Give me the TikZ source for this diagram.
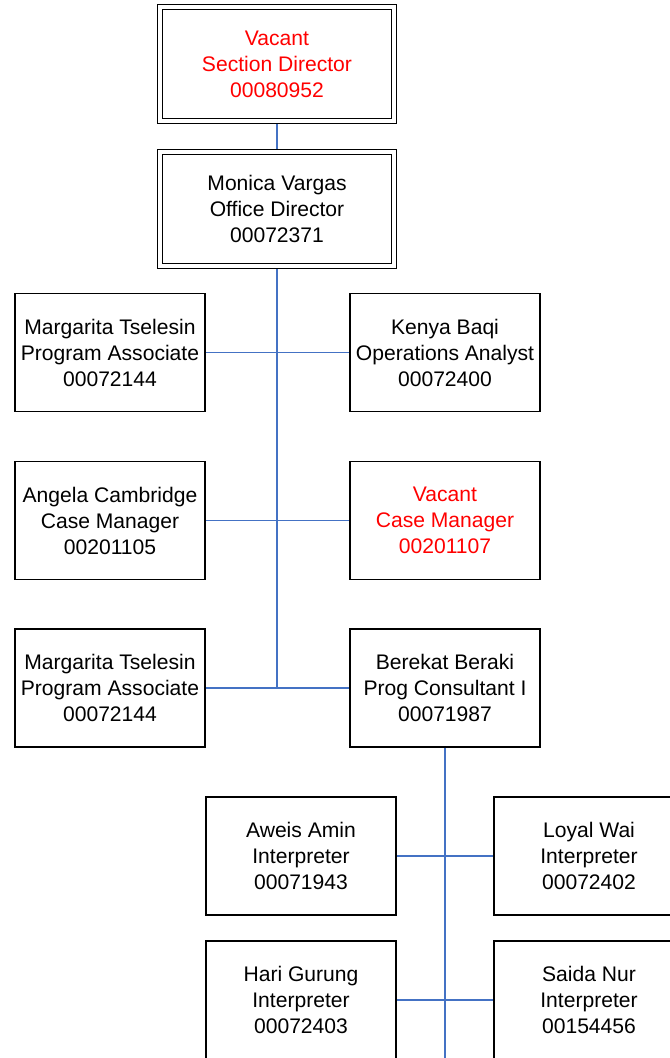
\documentclass[tikz,border=0pt]{standalone}
\usepackage{fontspec}
\setmainfont{Liberation Sans}
\usepackage{xcolor}
\usetikzlibrary{positioning}
\definecolor{linkblue}{RGB}{68,114,196}
\begin{document}
\begin{tikzpicture}[x=0.025cm,y=-0.025cm,
	post/.style={draw=black,line width=1.1pt,fill=white,minimum width=4.76cm,minimum height=2.94cm,inner sep=0pt,align=center,font=\fontsize{15}{18.5}\selectfont},
	head/.style={post,double=white,double distance=2.6pt,minimum width=5.85cm,minimum height=2.85cm,outer sep=2.4pt},
	vacant/.style={text=red},
	link/.style={draw=linkblue,line width=1.4pt}]
	\path[use as bounding box,clip] (0,0) rectangle (670,1058);
	\node[head,vacant] (sd) at (277,64) {Vacant\\Section Director\\00080952};
	\node[head] (od) at (277,209) {Monica Vargas\\Office Director\\00072371};
	\node[post] (pa1) at (110,352.5) {Margarita Tselesin\\Program Associate\\00072144};
	\node[post] (kb) at (445,352.5) {Kenya Baqi\\Operations Analyst\\00072400};
	\node[post] (ac) at (110,520.5) {Angela Cambridge\\Case Manager\\00201105};
	\node[post,vacant] (cm) at (445,520.5) {Vacant\\Case Manager\\00201107};
	\node[post] (pa2) at (110,688) {Margarita Tselesin\\Program Associate\\00072144};
	\node[post] (bb) at (445,688) {Berekat Beraki\\Prog Consultant I\\00071987};
	\node[post] (aa) at (301,856) {Aweis Amin\\Interpreter\\00071943};
	\node[post] (lw) at (589,856) {Loyal Wai\\Interpreter\\00072402};
	\node[post] (hg) at (301,1000) {Hari Gurung\\Interpreter\\00072403};
	\node[post] (sn) at (589,1000) {Saida Nur\\Interpreter\\00154456};
	\coordinate (tail) at (445,1062);
	\draw[link] (sd.south) -- (od.north);
	\draw[link] (od.south) -- (od.south |- pa2.east);
	\draw[link] (pa1.east) -- (kb.west);
	\draw[link] (ac.east) -- (cm.west);
	\draw[link] (pa2.east) -- (bb.west);
	\draw[link] (bb.south) -- (tail);
	\draw[link] (aa.east) -- (lw.west);
	\draw[link] (hg.east) -- (sn.west);
\end{tikzpicture}
\end{document}
